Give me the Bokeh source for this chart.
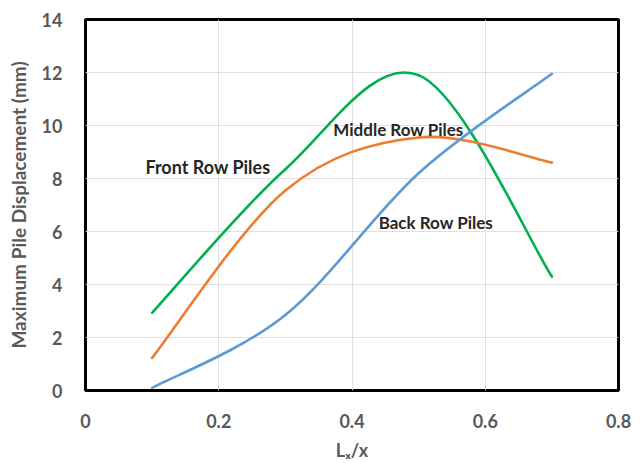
import numpy as np
from bokeh.plotting import figure
from bokeh.models import Range1d, FixedTicker, Label
from bokeh.embed import file_html
from bokeh.resources import INLINE

# Lx/x ratio at which each row's maximum displacement was recorded
ratio = [0.1, 0.3, 0.5, 0.7]
front_row = [2.93, 8.35, 11.9, 4.3]
middle_row = [1.23, 7.55, 9.55, 8.6]
back_row = [0.1, 2.85, 8.2, 11.95]

x_ticks = [0, 0.2, 0.4, 0.6, 0.8]
y_ticks = [0, 2, 4, 6, 8, 10, 12, 14]

series_names = ["Front Row Piles", "Middle Row Piles", "Back Row Piles"]
series_colors = ["#00B050", "#ED7D31", "#5B9BD5"]

TEXT_FONT = "Lato"
GREY = "#595959"


def smooth_segments(xs, ys):
    """Cubic Bezier pieces through the points (Catmull-Rom style smoothing)."""
    pts = np.column_stack([xs, ys]).astype(float)
    ext = np.vstack([pts[:1], pts, pts[-1:]])
    seg = dict(x0=[], y0=[], x1=[], y1=[], cx0=[], cy0=[], cx1=[], cy1=[])
    for i in range(len(pts) - 1):
        p_prev, p0, p1, p_next = ext[i], ext[i + 1], ext[i + 2], ext[i + 3]
        c0 = p0 + (p1 - p_prev) / 6.0
        c1 = p1 - (p_next - p0) / 6.0
        seg["x0"].append(p0[0]); seg["y0"].append(p0[1])
        seg["x1"].append(p1[0]); seg["y1"].append(p1[1])
        seg["cx0"].append(c0[0]); seg["cy0"].append(c0[1])
        seg["cx1"].append(c1[0]); seg["cy1"].append(c1[1])
    return seg


p = figure(width=643, height=463, output_backend="svg", toolbar_location=None,
           x_range=Range1d(0, 0.8), y_range=Range1d(0, 14),
           min_border_left=85, min_border_right=25,
           min_border_top=19, min_border_bottom=72)

p.outline_line_color = "black"
p.outline_line_width = 3
p.background_fill_color = "white"
p.border_fill_color = "white"

p.xaxis.ticker = FixedTicker(ticks=x_ticks)
p.yaxis.ticker = FixedTicker(ticks=y_ticks)
p.xaxis.major_label_overrides = {0: "0", 0.2: "0.2", 0.4: "0.4", 0.6: "0.6", 0.8: "0.8"}

for ax in (p.xaxis[0], p.yaxis[0]):
    ax.axis_line_color = None
    ax.major_tick_line_color = None
    ax.minor_tick_line_color = None
    ax.major_label_text_font = TEXT_FONT
    ax.major_label_text_font_style = "bold"
    ax.major_label_text_font_size = "18px"
    ax.major_label_text_color = GREY
    ax.axis_label_text_font = TEXT_FONT
    ax.axis_label_text_font_style = "bold"
    ax.axis_label_text_color = GREY

p.xaxis.major_label_standoff = 17
p.yaxis.major_label_standoff = 17
p.xaxis.axis_label = "Lₓ/x"
p.xaxis.axis_label_text_font_size = "18px"
p.xaxis.axis_label_standoff = 8
p.yaxis.axis_label = "Maximum Pile Displacement (mm)"
p.yaxis.axis_label_text_font_size = "19px"
p.yaxis.axis_label_standoff = 9

p.grid.grid_line_color = "#E0E0E0"
p.grid.grid_line_width = 1

for ys, color in zip([front_row, middle_row, back_row], series_colors):
    p.bezier(line_color=color, line_width=2.6, line_cap="round",
             **smooth_segments(ratio, ys))

# Row labels placed next to their curves
label_spots = [(0.090, 8.42, "Front Row Piles", "18px"),
               (0.372, 9.85, "Middle Row Piles", "17px"),
               (0.440, 6.35, "Back Row Piles", "17px")]
for lx, ly, txt, size in label_spots:
    p.add_layout(Label(x=lx, y=ly, text=txt, text_font=TEXT_FONT,
                       text_font_style="bold", text_font_size=size,
                       text_color="#262626", text_baseline="middle",
                       text_align="left"))

open("out.html", "w").write(file_html(p, INLINE))
